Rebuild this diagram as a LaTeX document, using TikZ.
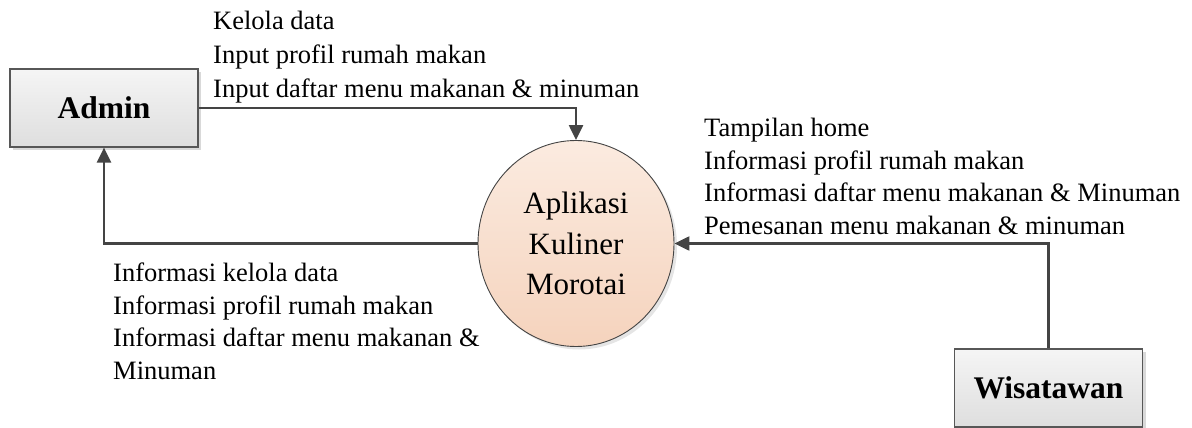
\documentclass[tikz,border=0pt]{standalone}
\usepackage{fontspec}
\setmainfont{Liberation Serif}
\usetikzlibrary{arrows.meta,shadows,shapes.geometric}

\definecolor{linegray}{HTML}{444444}
\definecolor{boxtop}{HTML}{F5F5F5}
\definecolor{boxbottom}{HTML}{DEDEDE}
\definecolor{peachtop}{HTML}{FBEBE0}
\definecolor{peachbottom}{HTML}{F5D3BD}

\tikzset{
  entity/.style={draw=linegray!90, line width=1.2pt, top color=boxtop, bottom color=boxbottom,
    minimum width=188pt, minimum height=78pt, inner sep=0pt,
    font=\fontsize{31.5}{36}\selectfont\bfseries,
    drop shadow={shadow xshift=3pt, shadow yshift=-3pt, fill=black!25, opacity=0.6}},
  process/.style={ellipse, draw=linegray, line width=0.9pt, top color=peachtop, bottom color=peachbottom,
    minimum width=196pt, minimum height=206pt, inner sep=0pt, align=center,
    font=\fontsize{31}{40.5}\selectfont,
    drop shadow={shadow xshift=3pt, shadow yshift=-3pt, fill=black!20, opacity=0.5}},
  flow/.style={draw=linegray, line width=2.4pt, -{Triangle[length=15pt,width=14pt]}},
  % multi-line labels are placed by the baseline of their last line
  lbl/.style={anchor=base west, inner sep=0pt, align=left,
    font=\fontsize{26.5}{32.5}\selectfont}
}

\begin{document}
\begin{tikzpicture}[x=1pt, y=-1pt]
  \useasboundingbox (0,0) rectangle (1192,428);

  % external entities and the process
  \node[entity] (admin) at (104,108) {Admin};
  \node[entity] (wis) at (1048.5,388) {Wisatawan};
  \node[process] (app) at (576,243.5) {Aplikasi\\Kuliner\\Morotai};

  % data flows
  \draw[flow] (admin.east) -| (app.north);
  \draw[flow] (app.west) -| (admin.south);
  \draw[flow] (wis.north) |- (app.east);

  % flow labels
  \node[lbl, font=\fontsize{26.5}{34}\selectfont] (inAdmin) at (213,97)
    {Kelola data\\Input profil rumah makan\\Input daftar menu makanan \& minuman};
  \node[lbl] (inWis) at (704,234)
    {Tampilan home\\Informasi profil rumah makan\\Informasi daftar menu makanan \& Minuman\\Pemesanan menu makanan \& minuman};
  \node[lbl] (outAdmin) at (113,379)
    {Informasi kelola data\\Informasi profil rumah makan\\Informasi daftar menu makanan \&\\Minuman};
\end{tikzpicture}
\end{document}
